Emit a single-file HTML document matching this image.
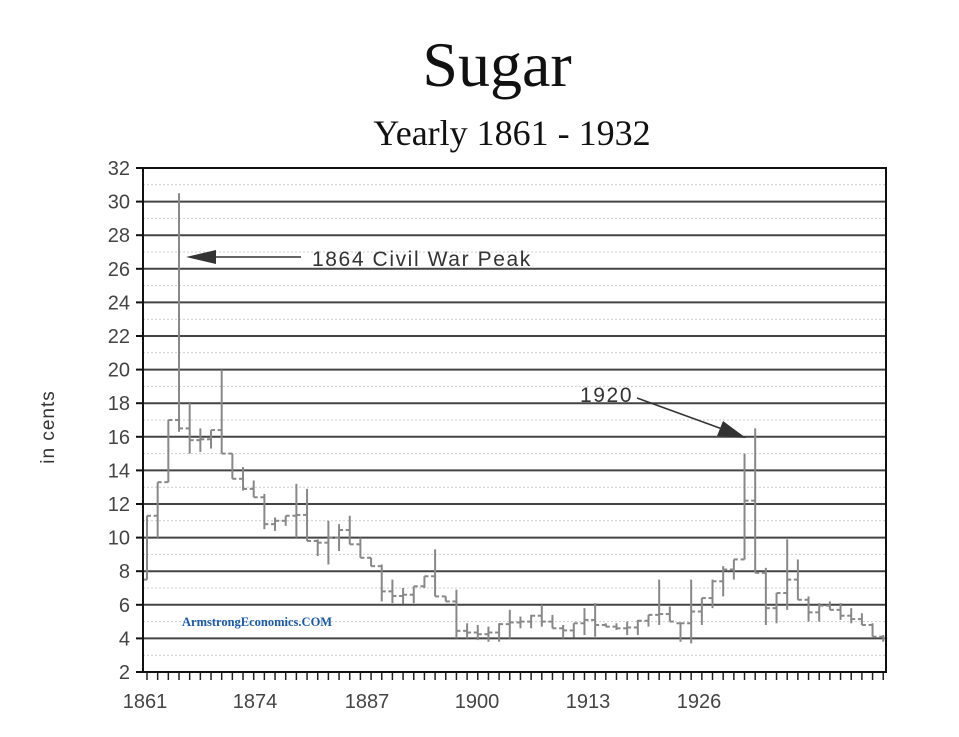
<!DOCTYPE html>
<html><head><meta charset="utf-8"><style>
html,body{margin:0;padding:0;background:#fff;}
svg{display:block}
</style></head><body>
<svg id="s" width="959" height="737" xmlns="http://www.w3.org/2000/svg">
<text x="497" y="86" text-anchor="middle" font-family="Liberation Serif, serif" font-size="64" fill="#111">Sugar</text>
<text x="512" y="145" text-anchor="middle" font-family="Liberation Serif, serif" font-size="36" fill="#111">Yearly 1861 - 1932</text>
<text transform="translate(54,427) rotate(-90)" text-anchor="middle" font-family="Liberation Sans, sans-serif" font-size="19" fill="#333" letter-spacing="1">in cents</text>
<g id="grid"></g>
<g id="bars" stroke="#888" stroke-width="2" fill="none"></g>
<rect x="143" y="168" width="743" height="504" fill="none" stroke="#111" stroke-width="2"/>
<text x="182" y="626" font-family="Liberation Serif, serif" font-weight="bold" font-size="12.5" fill="#1a5aa8">ArmstrongEconomics.COM</text>
<line x1="210" y1="257" x2="301" y2="257" stroke="#333" stroke-width="1.5"/>
<polygon points="186,257 216,250 216,264" fill="#333"/>
<text x="312" y="266" font-family="Liberation Sans, sans-serif" font-size="21" fill="#333" letter-spacing="1.6">1864 Civil War Peak</text>
<text x="580" y="402" font-family="Liberation Sans, sans-serif" font-size="21" fill="#333" letter-spacing="1.6">1920</text>
<line x1="637" y1="398" x2="725" y2="430" stroke="#333" stroke-width="1.5"/>
<polygon points="746,438 717,436 723,421" fill="#333"/>
</svg>
<script>
var s=document.getElementById('grid'),b=document.getElementById('bars'),NS='http://www.w3.org/2000/svg';
function el(p,t,a,txt){var e=document.createElementNS(NS,t);for(var k in a)e.setAttribute(k,a[k]);if(txt!==undefined)e.textContent=txt;p.appendChild(e);return e;}
function Y(v){return 168+(32-v)*16.8;}
for(var v=2;v<=32;v++){
  var y=Y(v);
  if(v%2==0){
    if(v<32&&v>2)el(s,'line',{x1:143,x2:886,y1:y,y2:y,stroke:'#444','stroke-width':2});
    el(s,'line',{x1:136,x2:143,y1:y,y2:y,stroke:'#111','stroke-width':2});
    el(s,'text',{x:130,y:y+7,'text-anchor':'end','font-family':'Liberation Sans, sans-serif','font-size':20,fill:'#444'},String(v));
  } else {
    el(s,'line',{x1:143,x2:886,y1:y,y2:y,stroke:'#ccc','stroke-width':1,'stroke-dasharray':'2,2'});
  }
}
var sp=10.67;
for(var i=0;i<70;i++){var x=147+i*sp;el(s,'line',{x1:x,x2:x,y1:672,y2:680,stroke:'#222','stroke-width':1.5});}
var labs=[[145,'1861'],[255,'1874'],[367,'1887'],[477,'1900'],[588,'1913'],[699,'1926']];
labs.forEach(function(l){el(s,'text',{x:l[0],y:708,'text-anchor':'middle','font-family':'Liberation Sans, sans-serif','font-size':20,fill:'#444'},l[1]);});
var d=[[11.3,7.5],[13.3,10],[17,13.3],[30.5,16.3],[18,15],[16.5,15.1],[16.4,15.3],[20,15],[15,13.5],[14.2,12.8],[13.4,12.4],[12.6,10.5],[11.2,10.4],[11.3,10.7],[13.2,10],[12.9,9.8],[9.9,8.9],[11,8.4],[10.8,9.2],[11.3,9.6],[10,8.8],[8.8,8.3],[8.4,6.2],[7.5,6.1],[7,6.05],[7.1,6.1],[7.7,7],[9.3,6.5],[6.5,6.2],[6.9,4],[4.9,4],[4.8,3.9],[4.7,3.8],[4.9,3.8],[5.7,4],[5.3,4.6],[5.4,4.6],[6,4.7],[5.4,4.6],[4.8,4],[4.9,4.05],[5.8,4.2],[6.1,4.1],[4.9,4.7],[4.9,4.5],[5,4.2],[5.1,4.2],[5.4,4.7],[7.5,4.8],[5.9,5],[4.9,3.8],[7.5,3.7],[6.4,4.8],[7.5,5.8],[8.3,6.5],[8.7,7.5],[15,8.7],[16.5,7.9],[8.2,4.8],[6.7,4.9],[9.9,5.7],[8.7,6.3],[6.5,5],[6.1,5],[6.2,5.7],[6.1,5.1],[5.8,4.9],[5.5,4.8],[4.9,4.1],[4.2,3.8]];
var prev=d[0][1];
d.forEach(function(r,i){
  var x=147+i*sp,h=r[0],l=r[1];
  el(b,'line',{x1:x,x2:x,y1:Y(h),y2:Y(l)});
  var o=Math.min(h,Math.max(l,prev));
  var nx=d[i+1]?d[i+1]:r;
  var c=Math.min(h,Math.max(l,(nx[0]+nx[1])/2));
  el(b,'line',{x1:x-4,x2:x,y1:Y(o),y2:Y(o)});
  el(b,'line',{x1:x,x2:x+4,y1:Y(c),y2:Y(c)});
  prev=c;
});
</script>
</body></html>
